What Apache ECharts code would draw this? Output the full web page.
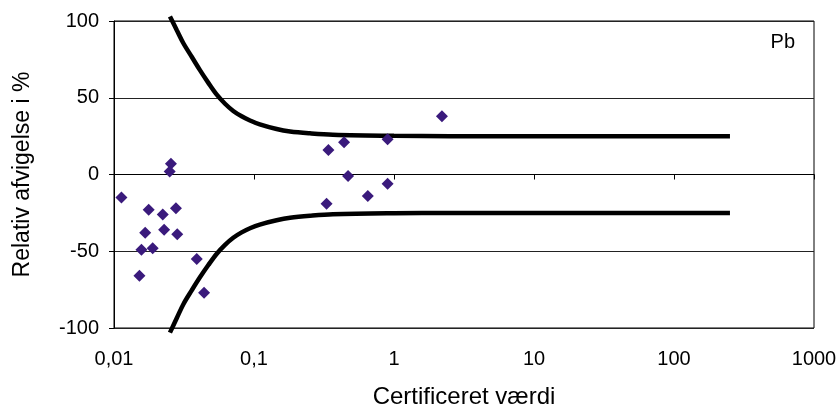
<!DOCTYPE html>
<html>
<head>
<meta charset="utf-8">
<script src="https://cdn.jsdelivr.net/npm/echarts@6/dist/echarts.min.js"></script>
<style>
    html, body { margin: 0; padding: 0; background: #fff; }
    #chart { width: 840px; height: 408px; }
</style>
</head>
<body>
<div id="chart"></div>
<script>
// certificeret værdi og relativ afvigelse (%) for hver prøve
var pointX = [0.0113, 0.0152, 0.0157, 0.0167, 0.0177, 0.0189, 0.0223, 0.0228, 0.025, 0.0255,
    0.0277, 0.0283, 0.039, 0.044, 0.33, 0.34, 0.44, 0.47, 0.65, 0.9, 0.9, 2.2];
var pointY = [-15, -66, -49, -38, -23, -48, -26, -36, 2, 7,
    -22, -39, -55, -77, -19, 16, 21, -1, -14, 23, -6, 38];

// graenser (aflæst fra kurverne)
var limitX = [0.0251, 0.0281, 0.0313, 0.0359, 0.0411, 0.0472, 0.0542, 0.0621, 0.0711, 0.0816,
    0.0936, 0.11, 0.145, 0.181, 0.251, 0.366, 1, 2.51, 251];
var upperY = [103, 94, 85.5, 76.7, 68, 59.7, 52, 46.1, 41.4, 37.9,
    35.2, 32.6, 29.6, 28, 26.8, 25.9, 25.2, 25, 25];
var lowerY = [-103, -93.5, -84.5, -75.5, -67, -59, -51.6, -45.8, -41.2, -37.7,
    -35, -32.6, -29.8, -28.2, -26.9, -25.9, -25.2, -25, -25];

var xTickLabels = ['0,01', '0,1', '1', '10', '100', '1000'];

function pairs(xs, ys) {
    var out = [];
    for (var i = 0; i < xs.length; i++) {
        out.push([xs[i], ys[i]]);
    }
    return out;
}

var font = 'Liberation Sans, Arial, sans-serif';
var myChart = echarts.init(document.getElementById('chart'), null, {width: 840, height: 408});
var option = {
    animation: false,
    title: {
        text: 'Pb',
        right: 40,
        top: 27,
        textStyle: {fontFamily: font, fontSize: 20, fontWeight: 'normal', color: '#000'}
    },
    grid: {
        left: 114, right: 26, top: 21, bottom: 80,
        outerBoundsMode: 'none',
        containLabel: false,
        show: true,
        borderColor: '#000',
        borderWidth: 1
    },
    xAxis: {
        type: 'log',
        logBase: 10,
        min: 0.01,
        max: 1000,
        name: 'Certificeret værdi',
        nameLocation: 'middle',
        nameGap: 57,
        nameTextStyle: {fontFamily: font, fontSize: 24, color: '#000'},
        axisLine: {lineStyle: {color: '#000', width: 1}},
        axisTick: {show: true, length: 5, lineStyle: {color: '#000'}},
        minorTick: {show: false},
        splitLine: {show: false},
        axisLabel: {
            fontFamily: font, fontSize: 20, color: '#000', margin: 21,
            formatter: function (v) {
                var idx = Math.round(Math.log(v) / Math.LN10) + 2;
                return xTickLabels[idx] || '';
            }
        }
    },
    yAxis: {
        type: 'value',
        min: -100,
        max: 100,
        interval: 50,
        name: 'Relativ afvigelse i %',
        nameLocation: 'middle',
        nameGap: 80,
        nameRotate: 90,
        nameTextStyle: {fontFamily: font, fontSize: 23, color: '#000'},
        axisLine: {show: true, lineStyle: {color: '#000', width: 1}},
        axisTick: {show: true, length: 5, lineStyle: {color: '#000'}},
        splitLine: {show: true, lineStyle: {color: '#222', width: 1}},
        axisLabel: {fontFamily: font, fontSize: 20, color: '#000', margin: 15}
    },
    series: [
        {
            name: 'upper',
            type: 'line',
            data: pairs(limitX, upperY),
            showSymbol: false,
            smooth: 0.35,
            clip: false,
            lineStyle: {color: '#000', width: 4.5},
            z: 3
        },
        {
            name: 'lower',
            type: 'line',
            data: pairs(limitX, lowerY),
            showSymbol: false,
            smooth: 0.35,
            clip: false,
            lineStyle: {color: '#000', width: 4.5},
            z: 3
        },
        {
            name: 'Pb',
            type: 'scatter',
            data: pairs(pointX, pointY),
            symbol: 'diamond',
            symbolSize: 12,
            itemStyle: {color: '#3a1a7c', opacity: 1},
            z: 4
        }
    ]
};
myChart.setOption(option, false);
</script>
</body>
</html>
